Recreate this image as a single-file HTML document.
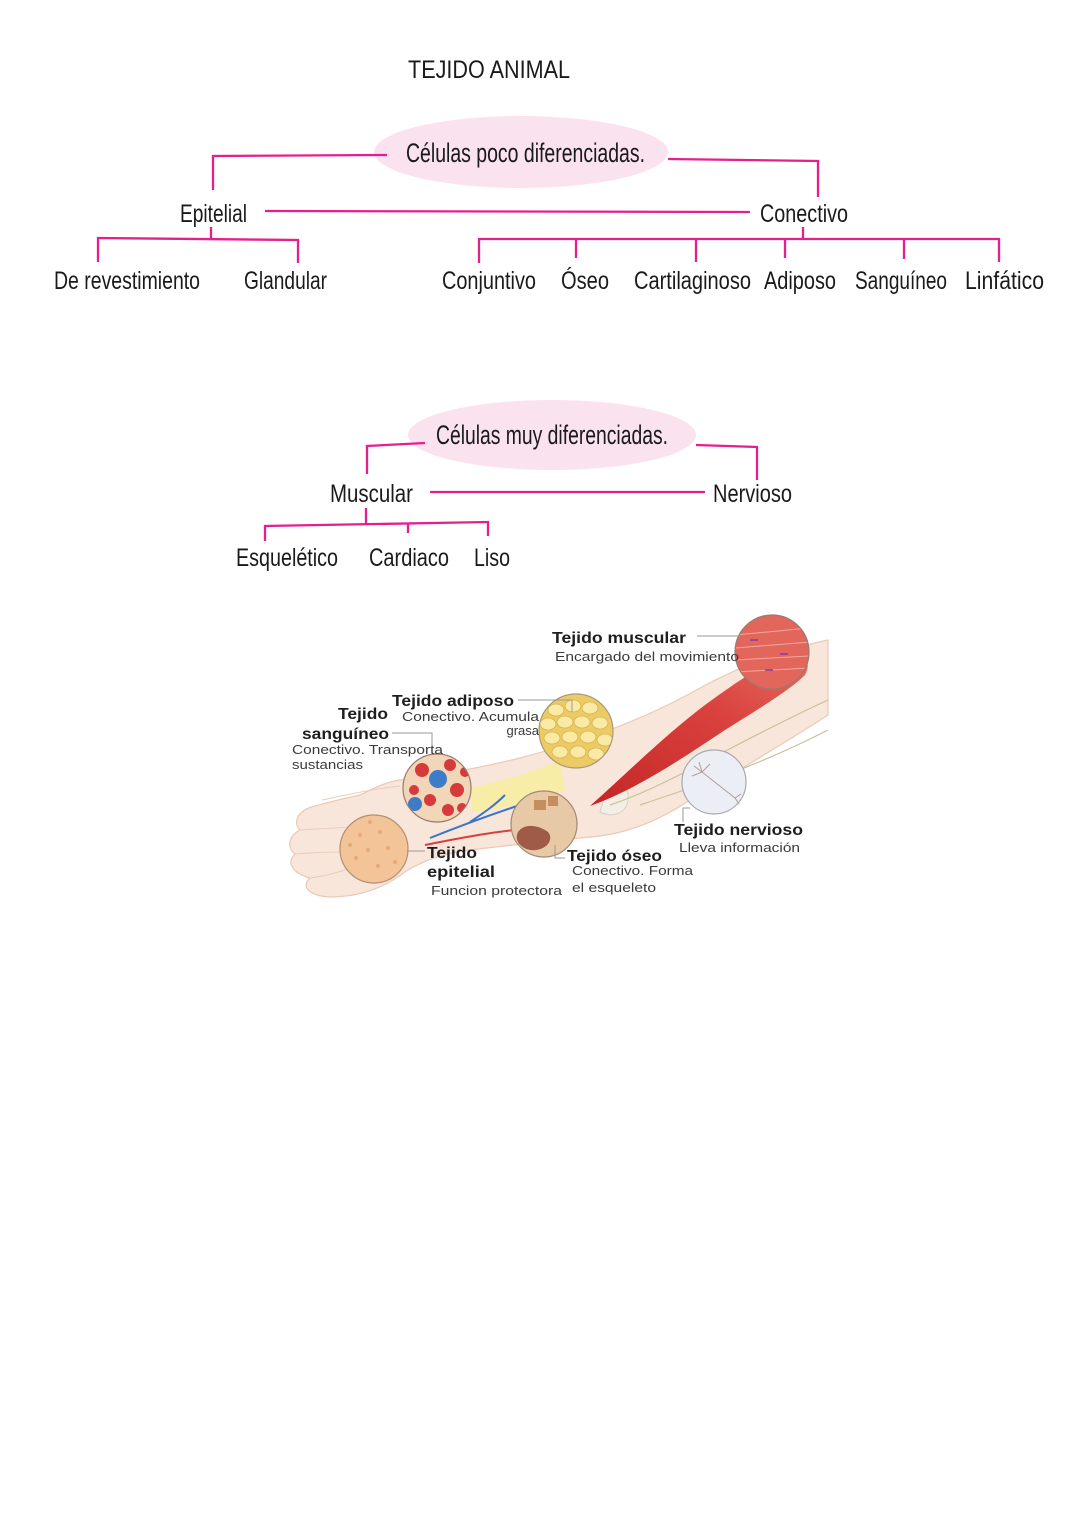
<!DOCTYPE html>
<html><head><meta charset="utf-8"><style>
html,body{margin:0;padding:0;background:#fff;}
svg{display:block;}
.h{font-family:"Liberation Sans",sans-serif;fill:#1a1a1a;}
.b{font-family:"Liberation Sans",sans-serif;font-weight:bold;fill:#1e1e1e;}
.s{font-family:"Liberation Sans",sans-serif;fill:#3a3a3a;}
</style></head><body>
<svg width="1080" height="1527" viewBox="0 0 1080 1527" xmlns="http://www.w3.org/2000/svg">
<rect width="1080" height="1527" fill="#fff"/>

<!-- Title -->
<text class="h" x="408" y="78" font-size="25" textLength="162" lengthAdjust="spacingAndGlyphs">TEJIDO ANIMAL</text>

<!-- Tree 1 -->
<ellipse cx="521" cy="152" rx="147" ry="36" fill="#fbe2ef"/>
<text class="h" x="406" y="162" font-size="27" textLength="239" lengthAdjust="spacingAndGlyphs">Células poco diferenciadas.</text>

<g stroke="#e5208e" stroke-width="2.3" fill="none">
  <polyline points="387,155 213,156 213,190"/>
  <polyline points="668,159 818,161 818,197"/>
  <line x1="265" y1="211" x2="750" y2="212"/>
  <line x1="211" y1="227" x2="211" y2="238"/>
  <polyline points="98,262 98,238 298,240 298,263"/>
  <line x1="803" y1="227" x2="803" y2="239"/>
  <polyline points="479,263 479,239 999,239 999,262"/>
  <line x1="576" y1="239" x2="576" y2="258"/>
  <line x1="696" y1="239" x2="696" y2="262"/>
  <line x1="785" y1="239" x2="785" y2="258"/>
  <line x1="904" y1="239" x2="904" y2="259"/>
</g>

<text class="h" x="180" y="222" font-size="25" textLength="67" lengthAdjust="spacingAndGlyphs">Epitelial</text>
<text class="h" x="760" y="222" font-size="25" textLength="88" lengthAdjust="spacingAndGlyphs">Conectivo</text>

<text class="h" x="54" y="289" font-size="25" textLength="146" lengthAdjust="spacingAndGlyphs">De revestimiento</text>
<text class="h" x="244" y="289" font-size="25" textLength="83" lengthAdjust="spacingAndGlyphs">Glandular</text>
<text class="h" x="442" y="289" font-size="25" textLength="94" lengthAdjust="spacingAndGlyphs">Conjuntivo</text>
<text class="h" x="561" y="289" font-size="25" textLength="48" lengthAdjust="spacingAndGlyphs">Óseo</text>
<text class="h" x="634" y="289" font-size="25" textLength="117" lengthAdjust="spacingAndGlyphs">Cartilaginoso</text>
<text class="h" x="764" y="289" font-size="25" textLength="72" lengthAdjust="spacingAndGlyphs">Adiposo</text>
<text class="h" x="855" y="289" font-size="25" textLength="92" lengthAdjust="spacingAndGlyphs">Sanguíneo</text>
<text class="h" x="965" y="289" font-size="25" textLength="79" lengthAdjust="spacingAndGlyphs">Linfático</text>

<!-- Tree 2 -->
<ellipse cx="552" cy="435" rx="144" ry="35" fill="#fbe2ef"/>
<text class="h" x="436" y="444" font-size="27" textLength="232" lengthAdjust="spacingAndGlyphs">Células muy diferenciadas.</text>

<g stroke="#e5208e" stroke-width="2.3" fill="none">
  <polyline points="425,443 367,446 367,474"/>
  <polyline points="696,445 757,447 757,480"/>
  <line x1="430" y1="492" x2="705" y2="492"/>
  <line x1="366" y1="508" x2="366" y2="524"/>
  <polyline points="265,541 265,526 488,522 488,536"/>
  <line x1="408" y1="524" x2="408" y2="533"/>
</g>

<text class="h" x="330" y="502" font-size="25" textLength="83" lengthAdjust="spacingAndGlyphs">Muscular</text>
<text class="h" x="713" y="502" font-size="25" textLength="79" lengthAdjust="spacingAndGlyphs">Nervioso</text>
<text class="h" x="236" y="566" font-size="25" textLength="102" lengthAdjust="spacingAndGlyphs">Esquelético</text>
<text class="h" x="369" y="566" font-size="25" textLength="80" lengthAdjust="spacingAndGlyphs">Cardiaco</text>
<text class="h" x="474" y="566" font-size="25" textLength="36" lengthAdjust="spacingAndGlyphs">Liso</text>

<!-- Illustration -->
<defs>
  <linearGradient id="mus" x1="0" y1="1" x2="1" y2="0">
    <stop offset="0" stop-color="#c42626"/>
    <stop offset="0.6" stop-color="#d9423e"/>
    <stop offset="1" stop-color="#e86a60"/>
  </linearGradient>
  <clipPath id="cm"><circle cx="772" cy="652" r="37"/></clipPath>
  <clipPath id="ca"><circle cx="576" cy="731" r="37"/></clipPath>
  <clipPath id="cb"><circle cx="437" cy="788" r="34"/></clipPath>
  <clipPath id="co"><circle cx="544" cy="824" r="33"/></clipPath>
  <clipPath id="ce"><circle cx="374" cy="849" r="34"/></clipPath>
</defs>

<!-- arm skin -->
<path d="M828,640 L828,715 C790,740 730,775 690,800 C660,820 630,832 600,836 C560,840 520,844 470,850 C440,854 420,862 405,872 C385,887 360,897 330,897 C310,896 300,887 310,878 C295,874 285,864 295,854 C287,848 288,836 300,830 C292,822 298,810 315,806 C330,802 345,798 360,795 C375,788 385,782 400,780 C440,775 480,768 520,758 C580,742 640,722 700,688 C740,666 790,648 828,640 Z" fill="#f8e6da" stroke="#ecc9b6" stroke-width="1.2"/>
<!-- fingers outlines -->
<g stroke="#e9cdbd" stroke-width="1" fill="none">
  <path d="M300,830 C330,828 350,828 372,824"/>
  <path d="M295,854 C320,852 340,852 345,852"/>
  <path d="M310,878 C325,876 340,872 350,868"/>
  <path d="M322,800 C345,795 380,788 400,786"/>
</g>
<!-- yellow fat layer -->
<path d="M470,788 C500,782 540,770 560,760 L565,790 C540,800 510,808 472,812 Z" fill="#f7ed9e" opacity="0.85"/>
<!-- bone -->
<path d="M606,792 C616,780 630,784 628,800 C626,814 612,818 600,812 Z" fill="#f3eee6" stroke="#d8d0c4" stroke-width="1"/>
<!-- arm inner lines -->
<g stroke="#c9c19a" stroke-width="1.2" fill="none">
  <path d="M610,805 C670,785 730,745 828,700"/>
  <path d="M640,805 C700,785 760,765 828,730"/>
</g>
<!-- vessels -->
<g stroke-width="2" fill="none">
  <path d="M430,838 C460,826 490,815 520,805" stroke="#3a76c4"/>
  <path d="M425,845 C460,838 500,830 540,828" stroke="#d64040"/>
  <path d="M470,822 C485,812 495,805 505,795" stroke="#3a76c4"/>
</g>
<!-- muscle (spindle) -->
<path d="M590,806 C625,775 665,735 705,705 C735,683 765,662 790,655 C805,652 812,662 805,675 C790,690 760,708 725,730 C680,760 635,790 590,806 Z" fill="url(#mus)"/>

<!-- muscle circle -->
<circle cx="772" cy="652" r="37" fill="#e2665c"/>
<g clip-path="url(#cm)" stroke="#f2a89e" stroke-width="1">
  <line x1="735" y1="635" x2="810" y2="628"/>
  <line x1="735" y1="648" x2="810" y2="642"/>
  <line x1="735" y1="660" x2="810" y2="656"/>
  <line x1="735" y1="672" x2="810" y2="668"/>
</g>
<g stroke="#8a3aa8" stroke-width="1.5">
  <line x1="750" y1="640" x2="758" y2="640"/>
  <line x1="780" y1="654" x2="788" y2="654"/>
  <line x1="765" y1="670" x2="773" y2="670"/>
</g>
<circle cx="772" cy="652" r="37" fill="none" stroke="#9a7a6e" stroke-width="1.2"/>

<!-- adipose circle -->
<circle cx="576" cy="731" r="37" fill="#eccb64"/>
<g clip-path="url(#ca)" fill="#fbe9a6" stroke="#d9b24e" stroke-width="0.8">
  <ellipse cx="556" cy="710" rx="8" ry="6"/><ellipse cx="573" cy="706" rx="8" ry="6"/><ellipse cx="590" cy="708" rx="8" ry="6"/>
  <ellipse cx="548" cy="724" rx="8" ry="6"/><ellipse cx="565" cy="722" rx="8" ry="6"/><ellipse cx="582" cy="722" rx="8" ry="6"/><ellipse cx="600" cy="723" rx="8" ry="6"/>
  <ellipse cx="552" cy="738" rx="8" ry="6"/><ellipse cx="570" cy="737" rx="8" ry="6"/><ellipse cx="588" cy="737" rx="8" ry="6"/><ellipse cx="605" cy="740" rx="8" ry="6"/>
  <ellipse cx="560" cy="752" rx="8" ry="6"/><ellipse cx="578" cy="752" rx="8" ry="6"/><ellipse cx="596" cy="754" rx="8" ry="6"/>
</g>
<circle cx="576" cy="731" r="37" fill="none" stroke="#a89a7a" stroke-width="1.2"/>

<!-- blood circle -->
<circle cx="437" cy="788" r="34" fill="#f2d6b8"/>
<g clip-path="url(#cb)">
  <circle cx="422" cy="770" r="7" fill="#d63a3a"/><circle cx="450" cy="765" r="6" fill="#d63a3a"/>
  <circle cx="457" cy="790" r="7" fill="#d63a3a"/><circle cx="430" cy="800" r="6" fill="#d63a3a"/>
  <circle cx="448" cy="810" r="6" fill="#d63a3a"/><circle cx="465" cy="772" r="5" fill="#d63a3a"/>
  <circle cx="414" cy="790" r="5" fill="#d63a3a"/><circle cx="462" cy="808" r="5" fill="#d63a3a"/>
  <circle cx="438" cy="779" r="9" fill="#3e7cc8"/><circle cx="415" cy="804" r="7" fill="#3e7cc8"/>
</g>
<circle cx="437" cy="788" r="34" fill="none" stroke="#9a7a6e" stroke-width="1.2"/>

<!-- bone circle -->
<circle cx="544" cy="824" r="33" fill="#e8c9a6"/>
<g clip-path="url(#co)">
  <rect x="534" y="800" width="12" height="10" fill="#c58e5c"/>
  <rect x="548" y="796" width="10" height="10" fill="#c58e5c"/>
  <path d="M518,832 C525,822 540,826 548,832 C555,840 545,852 530,850 C520,848 514,840 518,832 Z" fill="#a05a48"/>
</g>
<circle cx="544" cy="824" r="33" fill="none" stroke="#a08a78" stroke-width="1.2"/>

<!-- nerve circle -->
<circle cx="714" cy="782" r="32" fill="#eceef5" stroke="#a9a9b0" stroke-width="1.2"/>
<g stroke="#b89a9a" stroke-width="1" fill="none">
  <path d="M702,772 L735,798"/>
  <path d="M702,772 l-8,-6 M702,772 l-3,-10 M702,772 l8,-8 M702,772 l-10,4"/>
  <path d="M735,798 l6,-4 M735,798 l4,6"/>
</g>

<!-- epithelial circle -->
<circle cx="374" cy="849" r="34" fill="#f3c497" stroke="#b28f74" stroke-width="1.2"/>
<g clip-path="url(#ce)" fill="#e8a878">
  <circle cx="360" cy="835" r="2"/><circle cx="380" cy="832" r="2"/><circle cx="368" cy="850" r="2"/>
  <circle cx="388" cy="848" r="2"/><circle cx="356" cy="858" r="2"/><circle cx="378" cy="866" r="2"/>
  <circle cx="395" cy="862" r="2"/><circle cx="350" cy="845" r="2"/><circle cx="370" cy="822" r="2"/>
</g>

<!-- connectors -->
<g stroke="#9a9a9a" stroke-width="1" fill="none">
  <line x1="697" y1="636" x2="740" y2="636"/>
  <polyline points="518,700 572,700 572,712"/>
  <polyline points="392,733 432,733 432,754"/>
  <line x1="407" y1="851" x2="425" y2="851"/>
  <polyline points="555,845 555,858 565,858"/>
  <polyline points="690,808 683,808 683,822"/>
</g>

<!-- labels -->
<text class="b" x="552" y="643" font-size="16" textLength="134" lengthAdjust="spacingAndGlyphs">Tejido muscular</text>
<text class="s" x="555" y="661" font-size="13" textLength="184" lengthAdjust="spacingAndGlyphs">Encargado del movimiento</text>
<text class="b" x="392" y="706" font-size="16" textLength="122" lengthAdjust="spacingAndGlyphs">Tejido adiposo</text>
<text class="s" x="402" y="721" font-size="13" textLength="137" lengthAdjust="spacingAndGlyphs">Conectivo. Acumula</text>
<text class="s" x="539" y="735" font-size="13" text-anchor="end">grasa</text>
<text class="b" x="338" y="719" font-size="16" textLength="50" lengthAdjust="spacingAndGlyphs">Tejido</text>
<text class="b" x="302" y="739" font-size="16" textLength="87" lengthAdjust="spacingAndGlyphs">sanguíneo</text>
<text class="s" x="292" y="754" font-size="13" textLength="151" lengthAdjust="spacingAndGlyphs">Conectivo. Transporta</text>
<text class="s" x="292" y="769" font-size="13" textLength="71" lengthAdjust="spacingAndGlyphs">sustancias</text>
<text class="b" x="427" y="858" font-size="16" textLength="50" lengthAdjust="spacingAndGlyphs">Tejido</text>
<text class="b" x="427" y="877" font-size="16" textLength="68" lengthAdjust="spacingAndGlyphs">epitelial</text>
<text class="s" x="431" y="895" font-size="13" textLength="131" lengthAdjust="spacingAndGlyphs">Funcion protectora</text>
<text class="b" x="567" y="861" font-size="16" textLength="95" lengthAdjust="spacingAndGlyphs">Tejido óseo</text>
<text class="s" x="572" y="875" font-size="13" textLength="121" lengthAdjust="spacingAndGlyphs">Conectivo. Forma</text>
<text class="s" x="572" y="892" font-size="13" textLength="84" lengthAdjust="spacingAndGlyphs">el esqueleto</text>
<text class="b" x="674" y="835" font-size="16" textLength="129" lengthAdjust="spacingAndGlyphs">Tejido nervioso</text>
<text class="s" x="679" y="852" font-size="13" textLength="121" lengthAdjust="spacingAndGlyphs">Lleva información</text>
</svg>
</body></html>
